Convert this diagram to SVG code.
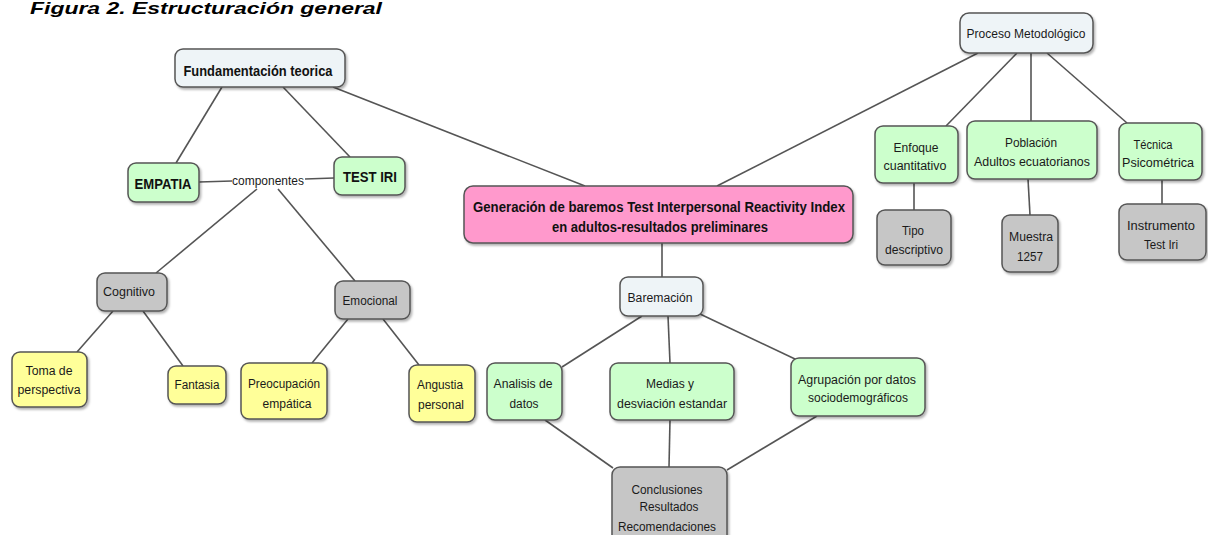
<svg xmlns="http://www.w3.org/2000/svg" width="1208" height="535" viewBox="0 0 1208 535">
<defs>
<filter id="sh" x="-10%" y="-10%" width="130%" height="140%">
<feDropShadow dx="1.5" dy="2" stdDeviation="1.2" flood-color="#000" flood-opacity="0.3"/>
</filter>
<style>
.n{stroke:#555;stroke-width:1.5;filter:url(#sh)}
.lb{fill:#eef4f7}.gr{fill:#ccffcc}.ye{fill:#ffff99}.gy{fill:#c6c6c6}.pk{fill:#ff99cc}
text{font-family:"Liberation Sans",Arial,sans-serif;font-size:12.5px;fill:#1a1a1a;text-anchor:middle}
.b{font-weight:bold;font-size:14px;fill:#111}
.c line{stroke:#555;stroke-width:1.6}
</style>
</defs>
<rect width="1208" height="535" fill="#ffffff"/>
<text x="30" y="14" style="text-anchor:start;font-weight:bold;font-style:italic;font-size:17px;fill:#000" textLength="352" lengthAdjust="spacingAndGlyphs">Figura 2. Estructuración general</text>

<g class="c" id="connectors">
<line x1="222" y1="87" x2="176" y2="163"/>
<line x1="283" y1="87" x2="350" y2="157"/>
<line x1="333" y1="87" x2="585" y2="186"/>
<line x1="199" y1="182" x2="232" y2="181"/>
<line x1="305" y1="179" x2="334" y2="178"/>
<line x1="257" y1="189" x2="156" y2="273"/>
<line x1="278" y1="189" x2="355" y2="281"/>
<line x1="113" y1="311" x2="77" y2="352"/>
<line x1="143" y1="311" x2="183" y2="366"/>
<line x1="348" y1="319" x2="312" y2="363"/>
<line x1="383" y1="319" x2="419" y2="365"/>
<line x1="978" y1="53" x2="717" y2="186"/>
<line x1="1017" y1="53" x2="946" y2="126"/>
<line x1="1031" y1="53" x2="1031" y2="121"/>
<line x1="1047" y1="53" x2="1127" y2="123"/>
<line x1="914" y1="183" x2="914" y2="210"/>
<line x1="1028" y1="179" x2="1030" y2="215"/>
<line x1="1162" y1="180" x2="1162" y2="204"/>
<line x1="662" y1="243" x2="662" y2="277"/>
<line x1="642" y1="316" x2="562" y2="367"/>
<line x1="668" y1="316" x2="670" y2="363"/>
<line x1="700" y1="314" x2="795" y2="359"/>
<line x1="545" y1="420" x2="613" y2="468"/>
<line x1="670" y1="420" x2="669" y2="467"/>
<line x1="817" y1="416" x2="727" y2="470"/>
</g>

<text x="268" y="185" textLength="72" lengthAdjust="spacingAndGlyphs">componentes</text>

<g id="fundamentacion"><rect class="n lb" x="175" y="49" width="170" height="38" rx="8"/><text class="b" x="258" y="76" textLength="149" lengthAdjust="spacingAndGlyphs">Fundamentación teorica</text></g>
<g id="empatia"><rect class="n gr" x="128" y="163" width="71" height="39" rx="8"/><text class="b" x="163" y="189" textLength="57" lengthAdjust="spacingAndGlyphs">EMPATIA</text></g>
<g id="testiri"><rect class="n gr" x="334" y="157" width="71" height="38" rx="8"/><text class="b" x="370" y="182" textLength="54" lengthAdjust="spacingAndGlyphs">TEST IRI</text></g>
<g id="cognitivo"><rect class="n gy" x="97" y="273" width="70" height="38" rx="8"/><text x="129" y="296" textLength="52" lengthAdjust="spacingAndGlyphs">Cognitivo</text></g>
<g id="emocional"><rect class="n gy" x="335" y="281" width="75" height="38" rx="8"/><text x="370" y="305" textLength="55" lengthAdjust="spacingAndGlyphs">Emocional</text></g>
<g id="toma"><rect class="n ye" x="12" y="352" width="75" height="55" rx="8"/><text x="49" y="375" textLength="47" lengthAdjust="spacingAndGlyphs">Toma de</text><text x="49" y="394" textLength="63" lengthAdjust="spacingAndGlyphs">perspectiva</text></g>
<g id="fantasia"><rect class="n ye" x="168" y="366" width="58" height="38" rx="8"/><text x="197" y="389" textLength="45" lengthAdjust="spacingAndGlyphs">Fantasia</text></g>
<g id="preocupacion"><rect class="n ye" x="241" y="363" width="86" height="56" rx="8"/><text x="284" y="388" textLength="72" lengthAdjust="spacingAndGlyphs">Preocupación</text><text x="287" y="408" textLength="49" lengthAdjust="spacingAndGlyphs">empática</text></g>
<g id="angustia"><rect class="n ye" x="409" y="365" width="66" height="57" rx="8"/><text x="440" y="389" textLength="46" lengthAdjust="spacingAndGlyphs">Angustia</text><text x="441" y="409" textLength="46" lengthAdjust="spacingAndGlyphs">personal</text></g>

<g id="generacion"><rect class="n pk" x="464" y="186" width="389" height="57" rx="9"/><text class="b" x="659" y="212" textLength="372" lengthAdjust="spacingAndGlyphs">Generación de baremos Test Interpersonal Reactivity Index</text><text class="b" x="660" y="232" textLength="216" lengthAdjust="spacingAndGlyphs">en adultos-resultados preliminares</text></g>
<g id="baremacion"><rect class="n lb" x="620" y="277" width="83" height="39" rx="8"/><text x="660" y="302" textLength="65" lengthAdjust="spacingAndGlyphs">Baremación</text></g>
<g id="analisis"><rect class="n gr" x="487" y="363" width="75" height="57" rx="8"/><text x="523" y="388" textLength="59" lengthAdjust="spacingAndGlyphs">Analisis de</text><text x="524" y="408" textLength="29" lengthAdjust="spacingAndGlyphs">datos</text></g>
<g id="medias"><rect class="n gr" x="610" y="363" width="124" height="57" rx="8"/><text x="670" y="388" textLength="48" lengthAdjust="spacingAndGlyphs">Medias y</text><text x="672" y="408" textLength="110" lengthAdjust="spacingAndGlyphs">desviación estandar</text></g>
<g id="agrupacion"><rect class="n gr" x="791" y="358" width="134" height="58" rx="8"/><text x="857" y="384" textLength="118" lengthAdjust="spacingAndGlyphs">Agrupación por datos</text><text x="858" y="402" textLength="100" lengthAdjust="spacingAndGlyphs">sociodemográficos</text></g>
<g id="conclusiones"><rect class="n gy" x="612" y="467" width="115" height="80" rx="8"/><text x="667" y="494" textLength="71" lengthAdjust="spacingAndGlyphs">Conclusiones</text><text x="669" y="511" textLength="59" lengthAdjust="spacingAndGlyphs">Resultados</text><text x="667" y="531" textLength="98" lengthAdjust="spacingAndGlyphs">Recomendaciones</text></g>

<g id="proceso"><rect class="n lb" x="960" y="13" width="133" height="40" rx="9"/><text x="1026" y="38" textLength="119" lengthAdjust="spacingAndGlyphs">Proceso Metodológico</text></g>
<g id="enfoque"><rect class="n gr" x="875" y="126" width="83" height="57" rx="8"/><text x="916" y="152" textLength="45" lengthAdjust="spacingAndGlyphs">Enfoque</text><text x="915" y="170" textLength="63" lengthAdjust="spacingAndGlyphs">cuantitativo</text></g>
<g id="poblacion"><rect class="n gr" x="967" y="121" width="130" height="58" rx="8"/><text x="1031" y="147" textLength="52" lengthAdjust="spacingAndGlyphs">Población</text><text x="1032" y="166" textLength="116" lengthAdjust="spacingAndGlyphs">Adultos ecuatorianos</text></g>
<g id="tecnica"><rect class="n gr" x="1119" y="123" width="83" height="57" rx="8"/><text x="1153" y="149" textLength="39" lengthAdjust="spacingAndGlyphs">Técnica</text><text x="1158" y="167" textLength="72" lengthAdjust="spacingAndGlyphs">Psicométrica</text></g>
<g id="tipo"><rect class="n gy" x="877" y="210" width="74" height="55" rx="8"/><text x="913" y="235" textLength="22" lengthAdjust="spacingAndGlyphs">Tipo</text><text x="914" y="254" textLength="58" lengthAdjust="spacingAndGlyphs">descriptivo</text></g>
<g id="muestra"><rect class="n gy" x="1002" y="215" width="56" height="57" rx="8"/><text x="1031" y="241" textLength="44" lengthAdjust="spacingAndGlyphs">Muestra</text><text x="1030" y="261" textLength="26" lengthAdjust="spacingAndGlyphs">1257</text></g>
<g id="instrumento"><rect class="n gy" x="1119" y="204" width="87" height="56" rx="8"/><text x="1161" y="230" textLength="68" lengthAdjust="spacingAndGlyphs">Instrumento</text><text x="1161" y="249" textLength="34" lengthAdjust="spacingAndGlyphs">Test Iri</text></g>
</svg>
